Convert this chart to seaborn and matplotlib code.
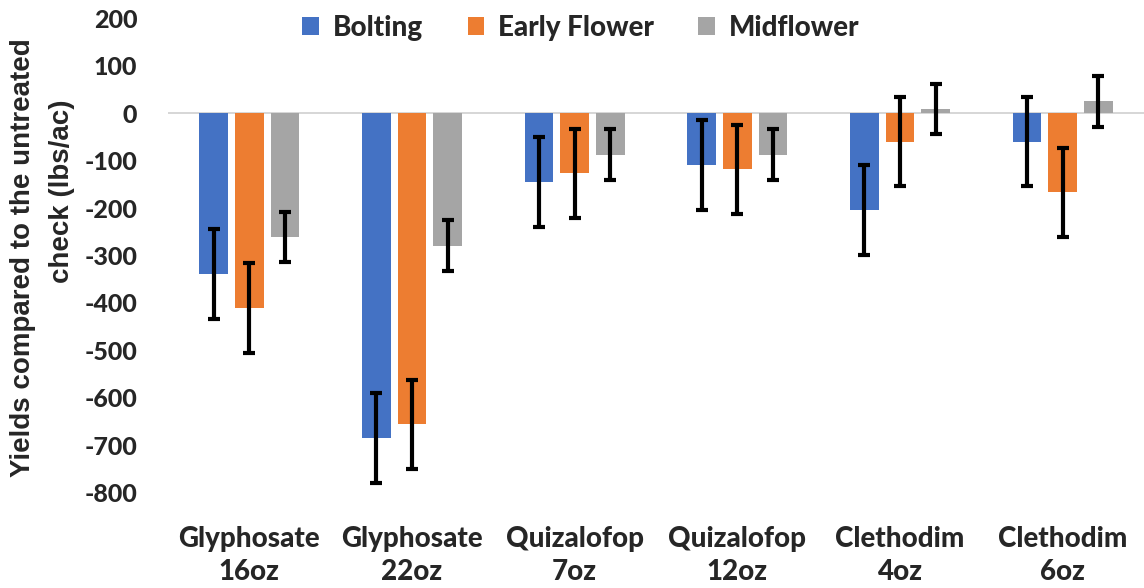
import matplotlib
matplotlib.use("Agg")
import matplotlib.pyplot as plt
import seaborn as sns
import pandas as pd
import numpy as np

categories = ["Glyphosate\n16oz", "Glyphosate\n22oz", "Quizalofop\n7oz",
              "Quizalofop\n12oz", "Clethodim\n4oz", "Clethodim\n6oz"]
stages = ["Bolting", "Early Flower", "Midflower"]
bolting = [-340, -685, -145, -109, -205, -60]
early_flower = [-411, -656, -127, -118, -60, -167]
midflower = [-261, -279, -87, -87, 9, 25]
bolting_err = [95, 95, 94, 94, 95, 94]
early_flower_err = [95, 94, 94, 94, 94, 94]
midflower_err = [52, 53, 53, 53, 53, 54]
yticks = list(range(-800, 201, 100))
ylabel_lines = ["Yields compared to the untreated", "check (lbs/ac)"]

colors = ["#4472C4", "#ED7D31", "#A5A5A5"]

sns.set_theme(style="white")
plt.rcParams['font.family'] = ['Lato', 'DejaVu Sans']

values = [bolting, early_flower, midflower]
errs = [bolting_err, early_flower_err, midflower_err]
df = pd.DataFrame({
    "Treatment": categories * 3,
    "Stage": [s for s in stages for _ in categories],
    "Yield": [v for series in values for v in series],
})

fig = plt.figure(figsize=(11.44, 5.88), dpi=100)
ax = fig.add_axes([168/1144, 1 - 492.5/588, 1 - 168/1144, (492.5 - 18.5)/588])

sns.barplot(data=df, x="Treatment", y="Yield", hue="Stage", order=categories,
            hue_order=stages, palette=colors, width=0.66, gap=0.2,
            errorbar=None, ax=ax, saturation=1, edgecolor="none")

for cont, err in zip(ax.containers, errs):
    xs = [p.get_x() + p.get_width() / 2 for p in cont.patches]
    ys = [p.get_y() + p.get_height() for p in cont.patches]
    ax.errorbar(xs, ys, yerr=err, fmt="none", ecolor="black", elinewidth=3,
                capsize=4, capthick=3, zorder=5)

ax.axhline(0, color="#D0D0D0", lw=1.2, zorder=0.5)
ax.set_ylim(-800, 200)
ax.set_xlim(-0.5, 5.5)
ax.set_yticks(yticks)
ax.set_yticklabels([str(t) for t in yticks], fontsize=18, fontweight="black")
ax.tick_params(axis="y", length=0, pad=22)
ax.tick_params(axis="x", length=0, pad=24)
for lab in ax.get_xticklabels():
    lab.set_fontsize(20)
    lab.set_fontweight("black")
    lab.set_linespacing(1.35)
for s in ax.spines.values():
    s.set_visible(False)
ax.set_xlabel("")
ax.set_ylabel("")

ylab_kw = dict(rotation=90, ha="center", va="center", fontsize=20, fontweight="bold",
               family=["Liberation Sans", "DejaVu Sans"])
fig.text(23/1144, 1 - 258/588, ylabel_lines[0], **ylab_kw)
fig.text(62/1144, 1 - 191/588, ylabel_lines[1], **ylab_kw)

leg = ax.legend(loc="center", bbox_to_anchor=(581/1144, 1 - 28/588),
                bbox_transform=fig.transFigure, ncol=3, frameon=False,
                prop={"weight": "black", "size": 20}, handlelength=0.6,
                handleheight=0.6, handletextpad=0.5, columnspacing=1.6)

fig.savefig("out.png", dpi=100)
